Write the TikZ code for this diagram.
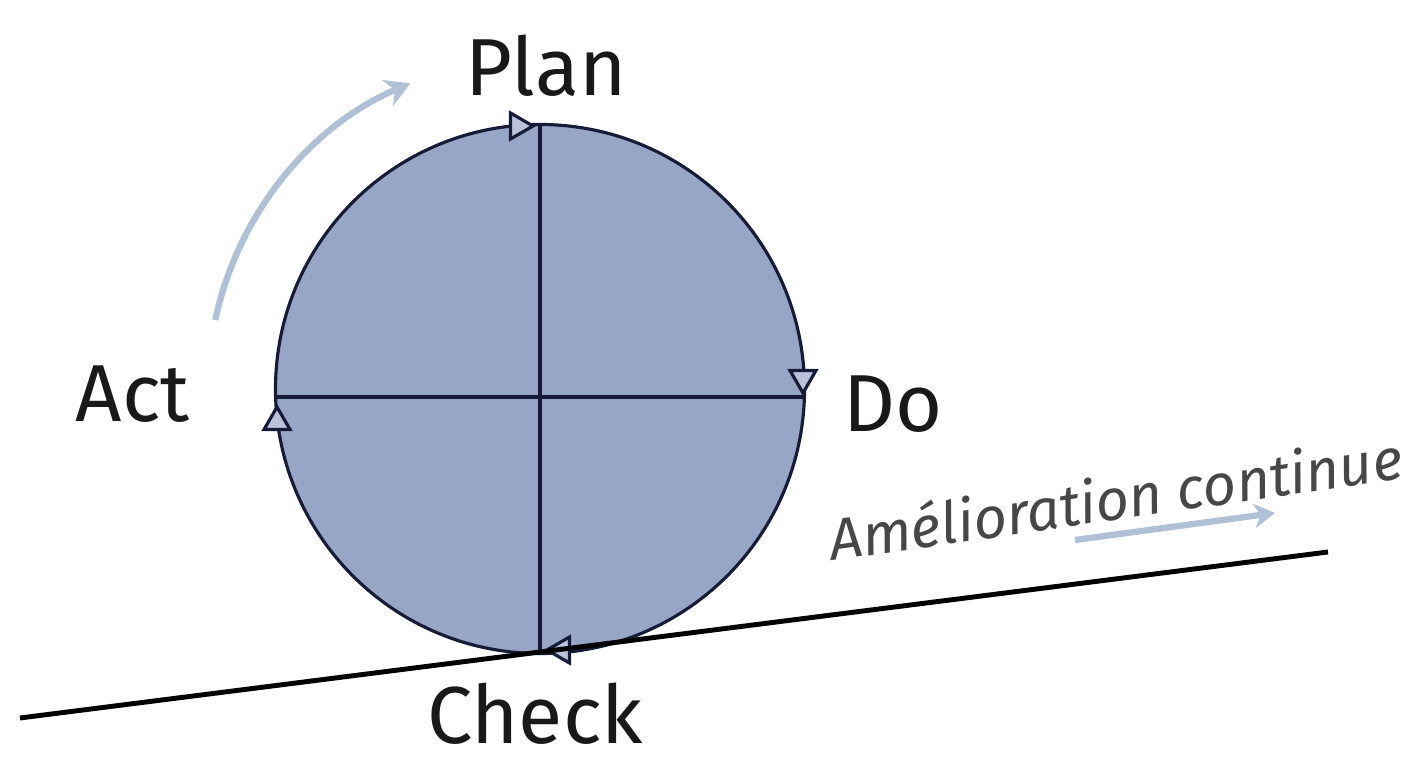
\documentclass[tikz,border=0pt]{standalone}
\usepackage{fontspec}
\setmainfont{Fira Sans}
\usetikzlibrary{shapes.geometric,arrows.meta}

\definecolor{wheelfill}{RGB}{151,166,199}
\definecolor{wheeldraw}{RGB}{22,28,56}
\definecolor{markfill}{RGB}{186,194,220}
\definecolor{hintarrow}{RGB}{176,192,214}

\tikzset{
  stage/.style={font=\fontsize{23}{23}\selectfont, text=black!90},
  marker/.style={regular polygon, regular polygon sides=3, draw=wheeldraw, fill=markfill,
                 line width=0.9pt, minimum size=0.3cm, inner sep=0pt},
}

\begin{document}
\begin{tikzpicture}
\useasboundingbox (0,0) rectangle (14.2,7.59);

% roue PDCA
\draw[wheeldraw, line width=0.9pt, fill=wheelfill] (5.40,3.70) circle (2.645);
\draw[wheeldraw, line width=0.9pt] (5.40,6.345) -- (5.40,1.055);
\draw[wheeldraw, line width=0.9pt] (2.756,3.62) -- (8.044,3.62);

% sens de rotation
\node[marker, rotate=-90] (mplan) at (5.18,6.33) {};
\node[marker, rotate=180] (mdo) at (8.03,3.81) {};
\node[marker, rotate=90] (mcheck) at (5.62,1.09) {};
\node[marker] (mact) at (2.77,3.37) {};

% etapes
\node[stage] (plan) at (5.46,6.93) {Plan};
\node[stage] (do) at (8.93,3.55) {Do};
\node[stage, inner sep=1pt] (check) at (5.35,0.45) {Check};
\node[stage] (act) at (1.33,3.65) {Act};

% pente
\draw[line width=1.4pt] (0.20,0.41) -- (13.28,2.07);

% fleches d'indication
\draw[hintarrow, line width=1.8pt, -{Stealth[length=7pt,width=8pt]}]
  (5.40,3.70) ++(168:3.32) arc (168:113:3.32);
\draw[hintarrow, line width=1.8pt, -{Stealth[length=6pt,width=7pt]}] (10.75,2.19) -- (12.75,2.46);
\node[rotate=8.2, anchor=base west, inner sep=0pt, font=\fontsize{16.5}{16.5}\itshape, text=black!72]
  (amelio) at (8.32,1.98) {Amélioration continue};
\end{tikzpicture}
\end{document}
